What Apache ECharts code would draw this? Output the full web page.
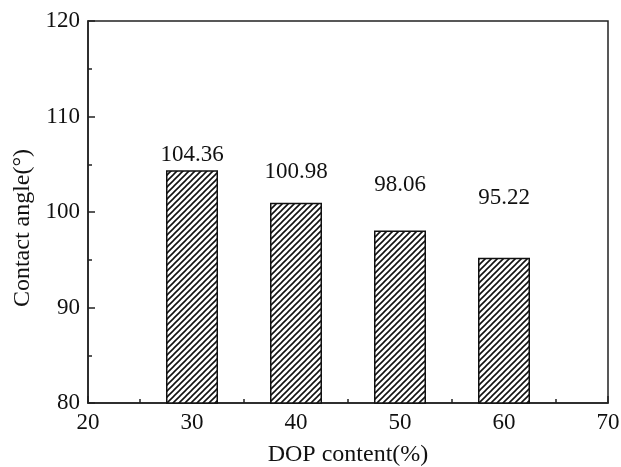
<!DOCTYPE html>
<html><head><meta charset="utf-8">
<script src="https://cdn.jsdelivr.net/npm/echarts@6/dist/echarts.min.js"></script>
<style>html,body{margin:0;padding:0;background:#fff}#c{width:621px;height:467px}</style>
</head><body><div id="c"></div>
<script>
const dopContent = [30, 40, 50, 60];
const contactAngle = [104.36, 100.98, 98.06, 95.22];
const labelTexts = ['104.36', '100.98', '98.06', '95.22'];
const labelLift = [4, 19, 34, 48];

function hatch() {
  const s = 6, c = document.createElement('canvas');
  c.width = s; c.height = s;
  const g = c.getContext('2d');
  g.fillStyle = '#fff'; g.fillRect(0, 0, s, s);
  g.strokeStyle = '#111'; g.lineWidth = 1.6;
  g.beginPath();
  g.moveTo(-1, s + 1); g.lineTo(s + 1, -1);
  g.moveTo(-1, 1); g.lineTo(1, -1);
  g.moveTo(s - 1, s + 1); g.lineTo(s + 1, s - 1);
  g.stroke();
  return c;
}
const font = '"Liberation Serif", "Times New Roman", serif';
const chart = echarts.init(document.getElementById('c'));
chart.setOption({
  animation: false,
  backgroundColor: '#fff',
  grid: { left: 88, right: 13, top: 21, bottom: 64, outerBoundsMode: 'none', containLabel: false, show: true, borderColor: '#222', borderWidth: 1.5, backgroundColor: 'transparent' },
  xAxis: {
    type: 'value', min: 20, max: 70, interval: 10,
    name: 'DOP content(%)', nameLocation: 'middle', nameGap: 40,
    nameTextStyle: { fontFamily: font, fontSize: 24, color: '#111' },
    axisLine: { show: true, lineStyle: { color: '#222', width: 1.5 } },
    axisTick: { show: true, inside: true, length: 7, lineStyle: { color: '#222', width: 1.5 } },
    minorTick: { show: true, splitNumber: 2, length: 4, lineStyle: { color: '#222', width: 1.5 } },
    axisLabel: { fontFamily: font, fontSize: 23, color: '#111', margin: 8 },
    splitLine: { show: false }
  },
  yAxis: {
    type: 'value', min: 80, max: 120, interval: 10,
    name: 'Contact angle(°)', nameLocation: 'middle', nameGap: 53,
    nameTextStyle: { fontFamily: font, fontSize: 24, color: '#111', padding: [0, 32, 0, 0] },
    axisLine: { show: true, lineStyle: { color: '#222', width: 1.5 } },
    axisTick: { show: true, inside: true, length: 7, lineStyle: { color: '#222', width: 1.5 } },
    minorTick: { show: true, splitNumber: 2, length: 4, lineStyle: { color: '#222', width: 1.5 } },
    axisLabel: { fontFamily: font, fontSize: 23, color: '#111', margin: 8 },
    splitLine: { show: false }
  },
  series: [{
    type: 'bar',
    barWidth: 52,
    itemStyle: { color: { image: hatch(), repeat: 'repeat' }, borderColor: '#111', borderWidth: 1.5 },
    label: { show: true, position: 'top', fontFamily: font, fontSize: 23, color: '#111' },
    data: dopContent.map((x, i) => ({
      value: [x, contactAngle[i]],
      label: { formatter: labelTexts[i], distance: labelLift[i] }
    }))
  }]
});
</script></body></html>
